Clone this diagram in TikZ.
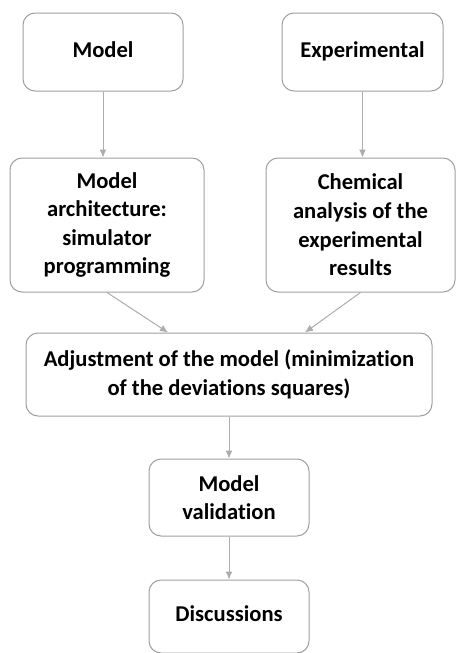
\documentclass[tikz,border=0pt]{standalone}
\usepackage{fontspec}
\setmainfont{Carlito}[Ligatures=NoCommon]
\usetikzlibrary{positioning, arrows.meta}

\tikzset{
  box/.style={draw=gray!75, line width=0.5pt, rounded corners=6pt, align=center, inner sep=0pt},
  oneline/.style={text height=1.55ex, text depth=0.45ex},
  link/.style={draw=gray!65, line width=0.5pt, ->}
}

\begin{document}
\begin{tikzpicture}[x=0.5pt, y=-0.5pt, font=\bfseries\fontsize{11.3}{14.3}\selectfont, >={Latex[length=4pt, width=3.5pt]}]
\useasboundingbox (0,0) rectangle (456,653);

\node[box, oneline, minimum width=80pt, minimum height=39pt] (model) at (103,52) {Model};
\node[box, oneline, minimum width=80.5pt, minimum height=39pt] (exper) at (362.5,52) {Experimental};

\node[box, minimum width=97pt, minimum height=67pt] (arch) at (107,225) {Model\\architecture:\\simulator\\programming};
\node[box, minimum width=94.5pt, minimum height=67pt] (chem) at (360.5,225) {Chemical\\analysis of the\\experimental\\results};

\node[box, minimum width=203pt, minimum height=41.5pt] (adjust) at (229,374.5) {Adjustment of the model (minimization\\of the deviations squares)};

\node[box, minimum width=80pt, minimum height=38.5pt, below=21pt of adjust] (valid) {Model\\validation};
\node[box, oneline, minimum width=80pt, minimum height=36.5pt, below=21.5pt of valid] (disc) {Discussions};

\draw[link] (model.south) -- (model.south |- arch.north);
\draw[link] (exper.south) -- (exper.south |- chem.north);
\draw[link] (arch.south) -- ([xshift=-30.5pt]adjust.north);
\draw[link] (chem.south) -- ([xshift=38pt]adjust.north);
\draw[link] (adjust) -- (valid);
\draw[link] (valid) -- (disc);

\end{tikzpicture}
\end{document}
